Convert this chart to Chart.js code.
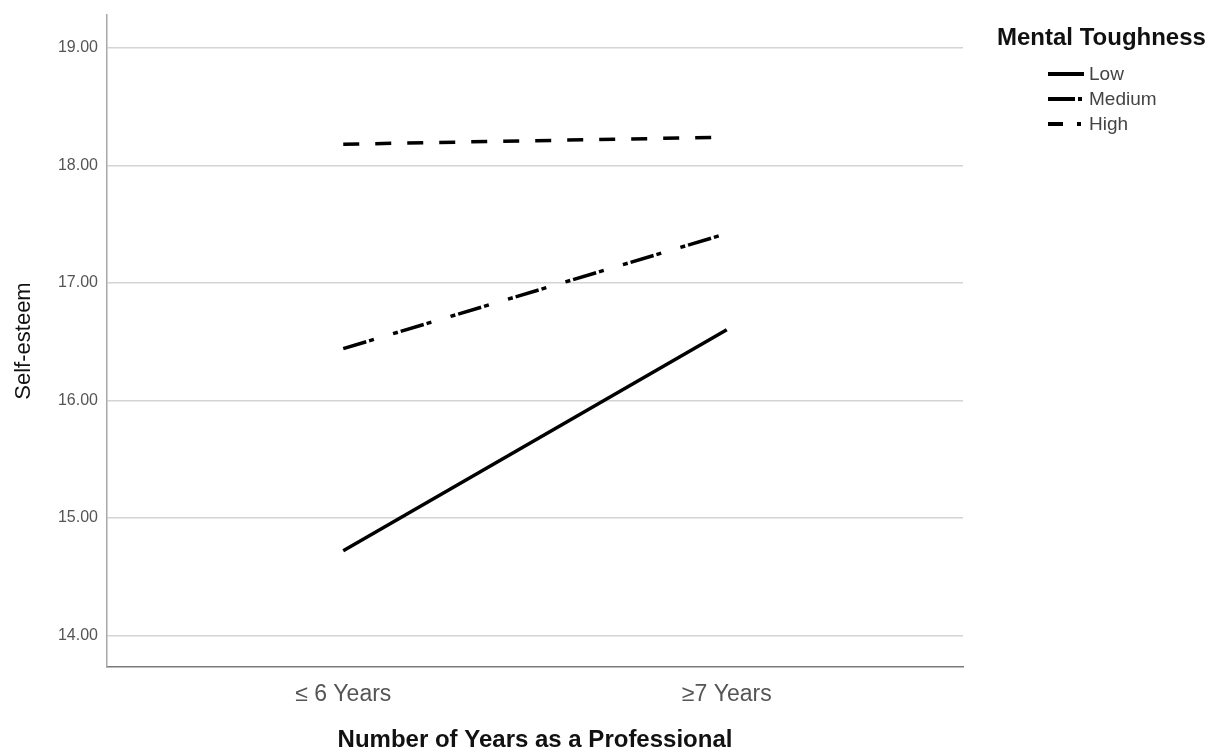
<!DOCTYPE html>
<html>
<head>
<meta charset="utf-8">
<script src="https://cdn.jsdelivr.net/npm/chart.js@4/dist/chart.umd.min.js"></script>
<style>
  body { margin: 0; background: #fff; }
  #wrap { position: relative; width: 1229px; height: 752px; font-family: 'Liberation Sans', Arial, sans-serif; }
  #legend { position: absolute; left: 997px; top: 23px; }
  #legend .title { font-size: 24px; font-weight: bold; color: #111; line-height: 28px; white-space: nowrap; }
  #legend .item { position: absolute; left: 51px; height: 24px; display: flex; align-items: center; white-space: nowrap; }
  #legend .item svg { margin-right: 5px; }
  #legend .item span { font-size: 19px; color: #444; }
</style>
</head>
<body>
<div id="wrap">
  <canvas id="chart" width="1229" height="752"></canvas>
  <div id="legend"></div>
</div>
<script>
// values
const categories = ['≤ 6 Years', '≥7 Years'];
const seriesNames = ['Low', 'Medium', 'High'];
const lowValues = [14.72, 16.60];
const mediumValues = [16.44, 17.42];
const highValues = [18.18, 18.24];

const seriesValues = [lowValues, mediumValues, highValues];

// line styles (SPSS style black lines)
const lineDashes = [[], [24, 3, 5, 20, 5, 3], [16, 16]];
const legendDashes = ['none', '27 3 4', '15 14 4'];

const fontFamily = "'Liberation Sans', Arial, sans-serif";

const datasets = seriesNames.map((name, i) => ({
  label: name,
  data: seriesValues[i].map((v, idx) => ({ x: idx, y: v })),
  borderColor: '#000',
  borderWidth: 3.5,
  borderDash: lineDashes[i],
  borderCapStyle: 'butt',
  pointRadius: 0,
  tension: 0,
  fill: false
}));

new Chart(document.getElementById('chart'), {
  type: 'line',
  data: { datasets },
  options: {
    responsive: false,
    animation: false,
    layout: { padding: { top: 15, right: 266, left: 0, bottom: 0 } },
    plugins: {
      legend: { display: false },
      tooltip: { enabled: false }
    },
    scales: {
      x: {
        type: 'linear',
        min: -0.616,
        max: 1.616,
        grid: { display: false },
        border: { display: true, color: '#7a7a7a', width: 1.5 },
        ticks: {
          stepSize: 1,
          includeBounds: false,
          padding: 6,
          color: '#555',
          font: { family: fontFamily, size: 23 },
          callback: (value) => categories[value] ?? ''
        },
        title: {
          display: true,
          text: 'Number of Years as a Professional',
          color: '#111',
          padding: { top: 0, bottom: 0 },
          font: { family: fontFamily, size: 24, weight: 'bold', lineHeight: 1 }
        },
        afterFit: (scale) => { scale.height = 85; }
      },
      y: {
        min: 13.73,
        max: 19.28,
        grid: { color: '#d4d4d4', lineWidth: 1.5, drawTicks: false },
        border: { display: true, color: '#a8a8a8', width: 1.5 },
        ticks: {
          stepSize: 1,
          includeBounds: false,
          padding: 9,
          color: '#555',
          font: { family: fontFamily, size: 16 },
          callback: (value) => value.toFixed(2)
        },
        title: {
          display: true,
          text: 'Self-esteem',
          color: '#111',
          padding: { top: 11, bottom: 0 },
          font: { family: fontFamily, size: 22 }
        },
        afterFit: (scale) => {
          scale.width = 107;
          // keep the plot top where SPSS puts it
          scale.paddingTop = 0;
          scale.paddingBottom = 0;
        }
      }
    }
  }
});

// legend drawn as html so it can sit where SPSS puts it
const legend = document.getElementById('legend');
legend.innerHTML = '<div class="title">Mental Toughness</div>';
seriesNames.forEach((name, i) => {
  const item = document.createElement('div');
  item.className = 'item';
  item.style.top = (39 + i * 25) + 'px';
  item.innerHTML =
    '<svg width="36" height="8"><line x1="0" y1="4" x2="36" y2="4" stroke="#000" stroke-width="4" stroke-dasharray="' +
    legendDashes[i] + '"/></svg><span>' + name + '</span>';
  legend.appendChild(item);
});
</script>
</body>
</html>
